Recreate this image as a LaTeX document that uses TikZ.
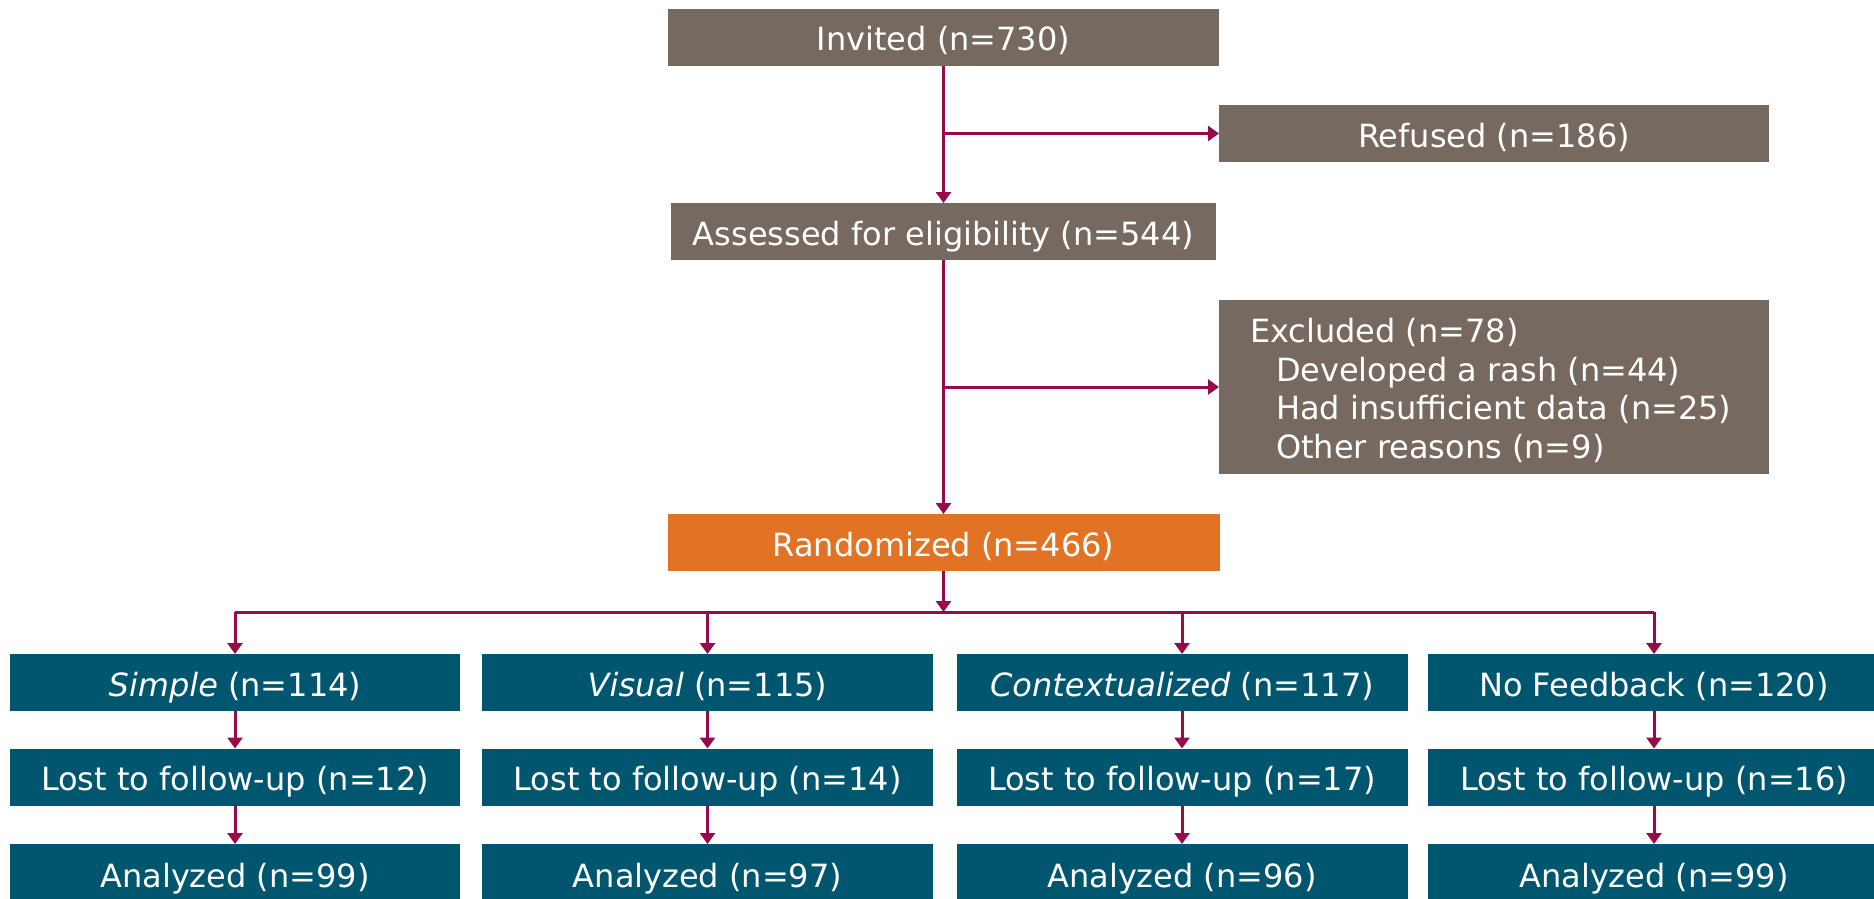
\documentclass[tikz,border=0pt]{standalone}
\usepackage{fontspec}
\setmainfont{DejaVu Sans}
\usetikzlibrary{arrows.meta}
\definecolor{boxgray}{HTML}{76695F}
\definecolor{boxorange}{HTML}{E27325}
\definecolor{boxteal}{HTML}{00566F}
\definecolor{arrowred}{HTML}{990A4D}
\begin{document}
\begin{tikzpicture}[x=1pt,y=-1pt,
  every node/.style={font=\fontsize{32}{38.7}\selectfont, text=white, inner sep=0pt, outer sep=0pt},
  oneline/.style={text height=27pt, text depth=0pt},
  graybox/.style={fill=boxgray, minimum height=57pt, oneline},
  orangebox/.style={fill=boxorange, minimum height=57pt, minimum width=552pt, oneline},
  tealbox/.style={fill=boxteal, minimum height=57pt, minimum width=451pt, oneline},
  conn/.style={draw=arrowred, line width=3pt},
  arr/.style={conn, -{Triangle[width=15pt,length=11pt]}}
]
\useasboundingbox (0,0) rectangle (1874,898);
\clip (0,0) rectangle (1874,898);

\node[graybox, minimum width=551pt] (inv) at (943.5,37) {Invited (n=730)};
\node[graybox, minimum width=550pt] (ref) at (1494,133.5) {Refused (n=186)};
\node[graybox, minimum width=545pt] (ass) at (943.5,231.5) {Assessed for eligibility (n=544)};
\node[fill=boxgray, minimum width=550pt, minimum height=174pt] (exc) at (1494,387) {};
\node[anchor=west, align=left] (exctext) at (1250,390.5)
  {Excluded (n=78)\\
   \hspace*{26pt}Developed a rash (n=44)\\
   \hspace*{26pt}Had insufficient data (n=25)\\
   \hspace*{26pt}Other reasons (n=9)};
\node[orangebox] (rnd) at (943.5,542.5) {Randomized (n=466)};
\coordinate (split) at (943.5,612);

\node[tealbox, minimum width=450pt] (g1) at (235,682.5) {\textit{Simple} (n=114)};
\node[tealbox] (g2) at (707.5,682.5) {\textit{Visual} (n=115)};
\node[tealbox] (g3) at (1182,682.5) {\textit{Contextualized} (n=117)};
\node[tealbox, minimum width=452pt] (g4) at (1654,682.5) {No Feedback (n=120)};

\node[tealbox, minimum width=450pt] (l1) at (235,777) {Lost to follow-up (n=12)};
\node[tealbox] (l2) at (707.5,777) {Lost to follow-up (n=14)};
\node[tealbox] (l3) at (1182,777) {Lost to follow-up (n=17)};
\node[tealbox, minimum width=452pt] (l4) at (1654,777) {Lost to follow-up (n=16)};

\node[tealbox, minimum width=450pt, minimum height=60pt] (a1) at (235,874) {Analyzed (n=99)};
\node[tealbox, minimum height=60pt] (a2) at (707.5,874) {Analyzed (n=97)};
\node[tealbox, minimum height=60pt] (a3) at (1182,874) {Analyzed (n=96)};
\node[tealbox, minimum width=452pt, minimum height=60pt] (a4) at (1654,874) {Analyzed (n=99)};

\draw[arr] (inv) -- (ass);
\draw[arr] (inv.south |- ref.west) -- (ref.west);
\draw[arr] (ass) -- (rnd);
\draw[arr] (ass.south |- exc.west) -- (exc.west);
\draw[arr] (rnd) -- (split);
\draw[conn] (g1.north |- split) -- (g4.north |- split);
\foreach \g in {g1,g2,g3,g4}{
  \draw[arr] (\g.north |- split) -- (\g.north);
}
\foreach \g/\l/\a in {g1/l1/a1,g2/l2/a2,g3/l3/a3,g4/l4/a4}{
  \draw[arr] (\g) -- (\l);
  \draw[arr] (\l) -- (\a);
}
\end{tikzpicture}
\end{document}
